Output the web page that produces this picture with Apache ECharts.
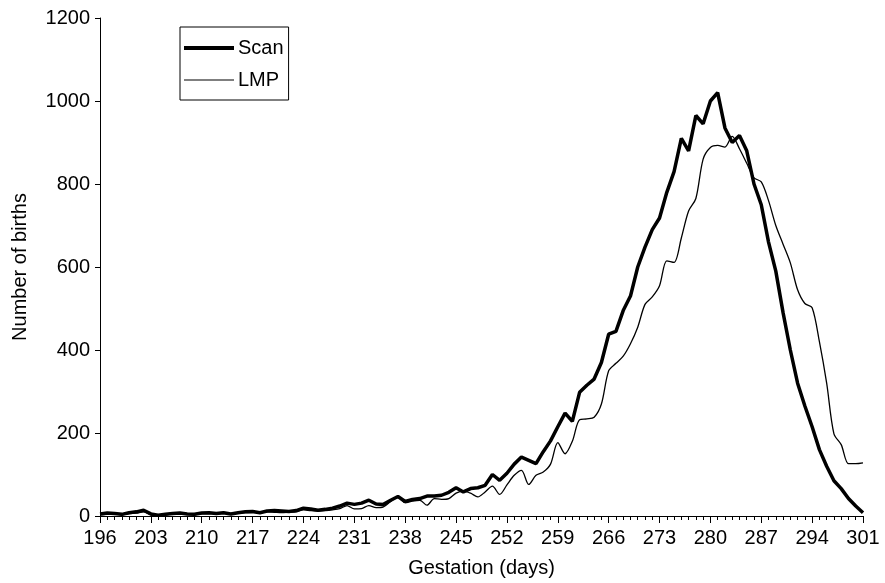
<!DOCTYPE html>
<html>
<head>
<meta charset="utf-8">
<script src="https://cdn.jsdelivr.net/npm/echarts@6/dist/echarts.min.js"></script>
<style>
html,body{margin:0;padding:0;background:#fff;}
#chart{width:885px;height:583px;}
</style>
</head>
<body>
<div id="chart"></div>
<script>
const days = [196,197,198,199,200,201,202,203,204,205,206,207,208,209,210,211,212,213,214,215,216,217,218,219,220,221,222,223,224,225,226,227,228,229,230,231,232,233,234,235,236,237,238,239,240,241,242,243,244,245,246,247,248,249,250,251,252,253,254,255,256,257,258,259,260,261,262,263,264,265,266,267,268,269,270,271,272,273,274,275,276,277,278,279,280,281,282,283,284,285,286,287,288,289,290,291,292,293,294,295,296,297,298,299,300,301];

const scan = [5,7,6,4,8,10,14,5,2,4,6,7,5,4,7,8,6,8,5,8,10,11,8,12,13,12,11,13,19,17,14,16,19,24,31,28,31,38,29,28,38,47,35,40,42,48,48,50,57,68,58,66,68,74,100,86,103,125,142,134,126,155,181,215,248,228,298,315,330,370,438,445,495,530,600,648,690,718,780,830,910,880,965,945,1000,1020,935,900,917,880,800,750,660,590,490,400,320,265,215,160,120,85,66,42,24,8];

const lmp = [3,4,5,3,6,7,10,3,1,3,5,6,4,3,6,6,5,7,4,7,8,9,7,10,9,8,9,10,15,13,12,13,15,18,25,17,18,25,20,22,35,45,32,36,38,26,42,40,42,55,60,55,46,58,72,52,75,98,110,76,98,106,125,177,150,180,232,234,238,270,350,368,385,415,455,510,528,555,615,611,670,735,765,860,888,893,889,915,885,850,815,805,760,700,655,610,545,512,502,420,320,198,172,126,126,128];

const yTicks = [0,200,400,600,800,1000,1200];

const font = 'Liberation Sans, Arial, sans-serif';
const chart = echarts.init(document.getElementById('chart'), null, {renderer:'canvas'});
chart.setOption({
  backgroundColor:'#ffffff',
  animation:false,
  grid:{left:100,right:22,top:18,bottom:62,containLabel:false},
  legend:{
    orient:'vertical', left:180, top:27,
    data:[
      {name:'Scan', icon:'path://M0,0H50V4H0Z'},
      {name:'LMP', icon:'path://M0,0H50V1.2H0Z'}
    ],
    symbolKeepAspect:true,
    borderColor:'#000', borderWidth:1, borderRadius:0,
    padding:[11,5,10,4], itemGap:12, itemWidth:50, itemHeight:14,
    textStyle:{fontFamily:font,fontSize:20,color:'#000',padding:[0,0,0,-1]}
  },
  xAxis:{
    type:'value', min:days[0], max:days[days.length-1], interval:7,
    name:'Gestation (days)', nameLocation:'middle', nameGap:42,
    nameTextStyle:{fontFamily:font,fontSize:20,color:'#000'},
    axisLine:{show:true,onZero:false,lineStyle:{color:'#000',width:1}},
    axisTick:{show:true,length:7,lineStyle:{color:'#000'}},
    minorTick:{show:true,splitNumber:7,length:4,lineStyle:{color:'#000'}},
    axisLabel:{fontFamily:font,fontSize:20,color:'#000',margin:12},
    splitLine:{show:false}
  },
  yAxis:{
    type:'value', min:yTicks[0], max:yTicks[yTicks.length-1], interval:200,
    name:'Number of births', nameLocation:'middle', nameGap:70, nameRotate:90,
    nameTextStyle:{fontFamily:font,fontSize:20,color:'#000'},
    axisLine:{show:true,lineStyle:{color:'#000',width:1}},
    axisTick:{show:true,length:5,lineStyle:{color:'#000'}},
    axisLabel:{fontFamily:font,fontSize:20,color:'#000',margin:10,formatter:function(v){return String(v);}},
    splitLine:{show:false}
  },
  series:[
    {name:'Scan',type:'line',symbol:'none',smooth:false,
     data:days.map((d,i)=>[d,scan[i]]),
     lineStyle:{color:'#000',width:3.5},itemStyle:{color:'#000'},z:3},
    {name:'LMP',type:'line',symbol:'none',smooth:0.3,
     data:days.map((d,i)=>[d,lmp[i]]),
     lineStyle:{color:'#000',width:1.3},itemStyle:{color:'#000'},z:2}
  ]
});
</script>
</body>
</html>
